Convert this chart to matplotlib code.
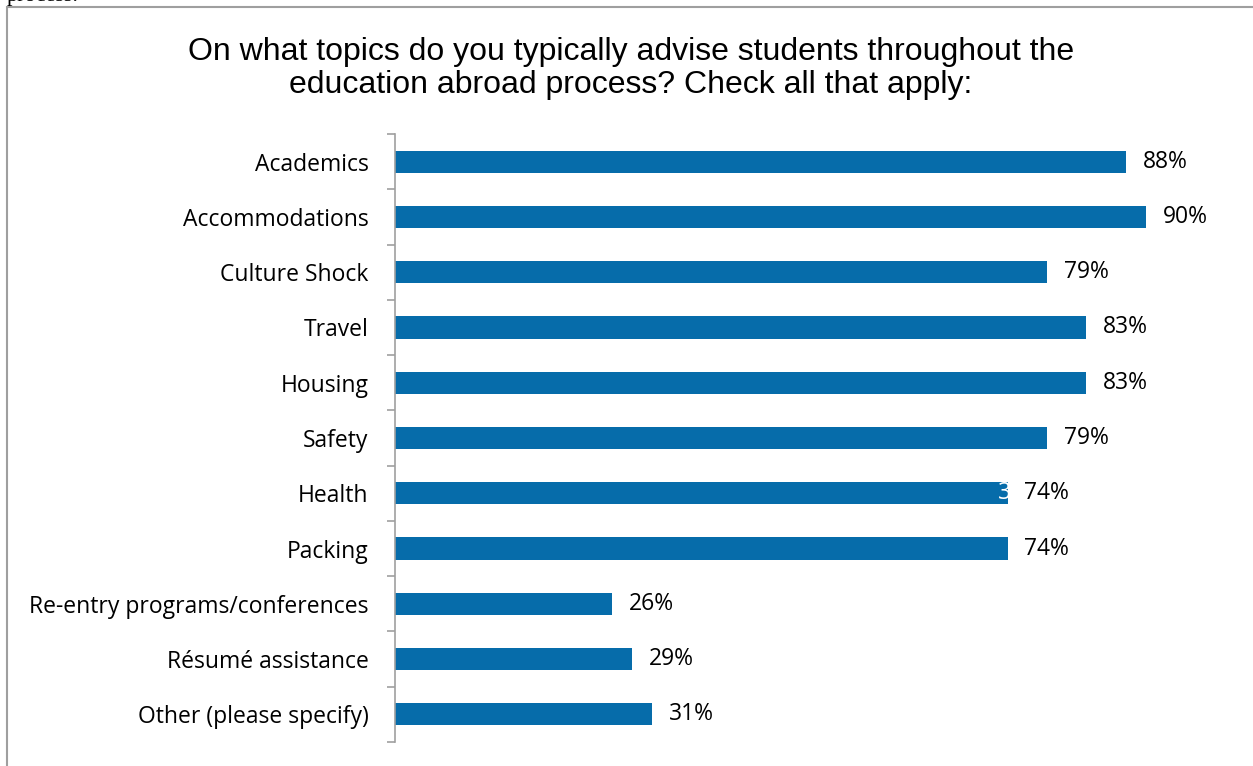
import numpy as np
import matplotlib
matplotlib.use("Agg")
import matplotlib.pyplot as plt
from matplotlib.patches import Rectangle

topics = ["Academics", "Accommodations", "Culture Shock", "Travel", "Housing",
          "Safety", "Health", "Packing", "Re-entry programs/conferences",
          "Résumé assistance", "Other (please specify)"]
pct = [88.1, 90.5, 78.6, 83.3, 83.3, 78.6, 73.8, 73.8, 26.2, 28.6, 31.0]
pct_labels = ["88%", "90%", "79%", "83%", "83%", "79%", "74%", "74%", "26%", "29%", "31%"]

title_lines = ["On what topics do you typically advise students throughout the",
               "education abroad process? Check all that apply:"]

W, H = 1253, 766
fig = plt.figure(figsize=(W / 100, H / 100), dpi=100)

# frame of the embedded chart (runs off the right/bottom edge)
fig.patches.append(Rectangle((7 / W, -0.1), 1.2, 1 - 7 / H + 0.1, transform=fig.transFigure,
                             fill=False, edgecolor="#9f9f9f", linewidth=1.5))
# leftover line of document text above the chart, cut off
fig.text(7 / W, 1 - 0.5 / H, "process.", family="Liberation Serif", fontsize=16,
         va="baseline", ha="left", color="black")

for i, line in enumerate(title_lines):
    fig.text(631 / W, 1 - (60 + 33 * i) / H, line, ha="center", va="baseline",
             family="Liberation Sans", fontsize=23, color="black")

ax = fig.add_axes([395 / W, 1 - 742 / H, 830 / W, 608 / H])
y = np.arange(len(topics))
bars = ax.barh(y, pct, height=0.4, color="#066CAA")
ax.set_xlim(0, 100)
ax.set_ylim(len(topics) - 0.5, -0.5)

for b, lab in zip(bars, pct_labels):
    ax.text(b.get_width() + 2.0, b.get_y() + b.get_height() / 2, lab, va="center", ha="left",
            family="Open Sans", fontsize=16.5, color="black")

# stray white label remnant on the Health bar
ax.text(pct[6] - 1.1, 6, "3", va="center", ha="left", family="Open Sans", fontsize=16.5,
        color="white")

ax.set_yticks(y)
ax.set_yticklabels(topics, family="Open Sans", fontsize=16.5)
ax.tick_params(axis="y", which="major", length=0, pad=19)
ax.set_yticks(np.arange(len(topics) + 1) - 0.5, minor=True)
ax.tick_params(axis="y", which="minor", length=6, width=1.2, color="#9f9f9f", direction="out")
ax.set_xticks([])
for s in ["top", "right", "bottom"]:
    ax.spines[s].set_visible(False)
ax.spines["left"].set_color("#9f9f9f")
ax.spines["left"].set_linewidth(1.2)

fig.savefig("out.png", dpi=100)
